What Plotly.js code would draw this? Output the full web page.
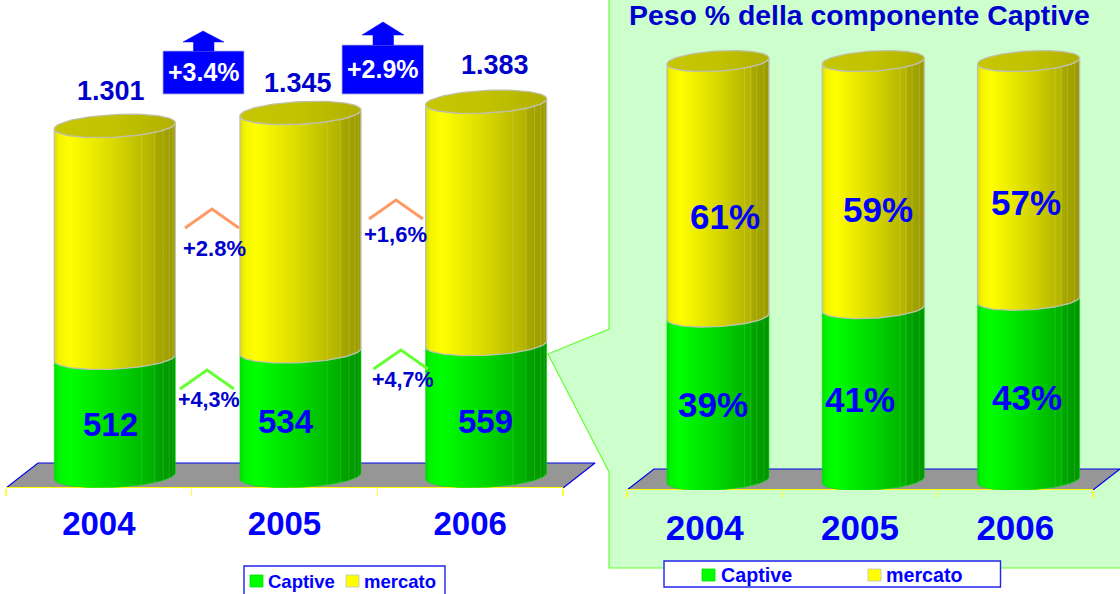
<!DOCTYPE html>
<html><head><meta charset="utf-8">
<script src="https://cdn.plot.ly/plotly-3.0.1.min.js"></script>
<style>html,body{margin:0;padding:0;background:#fff}#c{width:1120px;height:594px}</style>
</head><body><div id="c"></div>
<script>
const W = 1120, H = 594;
const categories = ['2004', '2005', '2006'];
const captiveValues = [512, 534, 559];
const mercatoValues = [789, 811, 824];
const totalLabels = ['1.301', '1.345', '1.383'];
const captiveShare = [39, 41, 43];
const mercatoShare = [61, 59, 57];
const totalGrowth = ['+3.4%', '+2.9%'];
const mercatoGrowth = ['+2.8%', '+1,6%'];
const captiveGrowth = ['+4,3%', '+4,7%'];

const FONT = 'Liberation Sans, Arial, sans-serif';
const BLUE = '#0000FF', NAVY = '#0000CC';
const YELLOW_SCALE = [[0, '#DDDD00'], [0.04, '#F4F400'], [0.13, '#FFFF00'], [0.3, '#EDED00'], [0.5, '#D8D800'], [0.72, '#BDBD00'], [0.82, '#B4B400'], [0.84, '#A8A800'], [1, '#999900']];
const GREEN_SCALE = [[0, '#00DD00'], [0.04, '#00F400'], [0.13, '#00FF00'], [0.3, '#00EC00'], [0.5, '#00D800'], [0.72, '#00BB00'], [0.82, '#00B000'], [0.84, '#00A400'], [1, '#009400']];
const TOP_SCALE = [[0, '#C6C600'], [0.5, '#C2C200'], [1, '#B0B000']];

const px = x => x / W, py = y => 1 - y / H;
const poly = pts => 'M' + pts.map(p => px(p[0]) + ',' + py(p[1])).join('L') + 'Z';
const shapes = [], annotations = [], traces = [];

function label(text, x, y, size, color) {
  annotations.push({ xref: 'paper', yref: 'paper', x: px(x), y: py(y), xanchor: 'center', yanchor: 'middle',
    showarrow: false, text: '<b>' + text + '</b>', font: { family: FONT, size: size, color: color } });
}
function paperPoly(pts, fill, lineColor, lineWidth, layer) {
  shapes.push({ type: 'path', xref: 'paper', yref: 'paper', path: poly(pts), fillcolor: fill,
    line: { color: lineColor, width: lineWidth }, layer: layer || 'above' });
}
function chevron(p, color) {
  shapes.push({ type: 'path', xref: 'paper', yref: 'paper',
    path: 'M' + p.map(q => px(q[0]) + ',' + py(q[1])).join('L'), line: { color: color, width: 3 }, layer: 'above' });
}

function drawChart(g) {
  const xa = 'x' + g.id, ya = 'y' + g.id;
  const seq = (a, b, n) => Array.from({ length: n + 1 }, (_, i) => a + (b - a) * i / n);
  const ell = (cx, v, th) => [cx + g.a / g.unit * Math.cos(th), v + (g.b * Math.sin(th) + g.s * Math.cos(th)) / g.k];
  const path = (cx, v, ths) => ths.map(t => ell(cx, v, t));
  const add = (pts, extra) => traces.push(Object.assign({
    type: 'scatter', xaxis: xa, yaxis: ya, x: pts.map(p => p[0]), y: pts.map(p => p[1]),
    mode: 'lines', hoverinfo: 'skip', showlegend: false, cliponaxis: false }, extra));

  // floor of the chart
  const yLow = g.yBase - g.floorFront / g.k, yBack = yLow + g.floorDepth / g.k, dx = g.floorShift;
  add([[-0.5, yLow], [-0.5 + dx, yBack], [2.5 + dx, yBack], [2.5, yLow], [-0.5, yLow]],
    { fill: 'toself', fillcolor: '#969696', line: { color: '#0000EE', width: 1.2 } });
  add([[-0.5, yLow], [2.5, yLow]], { line: { color: '#FFFF00', width: 1.8 } });

  g.lower.forEach((low, i) => {
    const cx = i + g.shift, top = low + g.upper[i], base = g.yBase;
    const front = seq(2 * Math.PI, Math.PI, 48), back = seq(Math.PI, 2 * Math.PI, 48);
    const body = (v0, v1) => path(cx, v1, front).concat(path(cx, v0, back)).concat([ell(cx, v1, 2 * Math.PI)]);
    add(body(base, low), { fill: 'toself', line: { color: '#00E000', width: 0.6 },
      fillgradient: { type: 'horizontal', colorscale: GREEN_SCALE } });
    add(body(low, top), { fill: 'toself', line: { color: '#C0C0B0', width: 1.3 },
      fillgradient: { type: 'horizontal', colorscale: YELLOW_SCALE } });
    const ring = path(cx, top, seq(0, 2 * Math.PI, 96));
    add(ring, { fill: 'toself', line: { color: '#C0C0A8', width: 1.3 },
      fillgradient: { type: 'horizontal', colorscale: TOP_SCALE } });
    // facet seams of the cylinder
    const fx = [], fyY = [], fxG = [], fyG = [];
    g.facets.forEach(f => {
      const th = 2 * Math.PI - Math.acos(2 * f - 1);
      const xs = ell(cx, low, th)[0];
      fx.push(xs, xs, null); fyY.push(ell(cx, low, th)[1], ell(cx, top, th)[1], null);
      fxG.push(xs, xs, null); fyG.push(ell(cx, base, th)[1], ell(cx, low, th)[1], null);
    });
    traces.push({ type: 'scatter', xaxis: xa, yaxis: ya, x: fx, y: fyY, mode: 'lines', hoverinfo: 'skip', showlegend: false,
      line: { color: 'rgba(235,235,150,0.28)', width: 0.8 } });
    traces.push({ type: 'scatter', xaxis: xa, yaxis: ya, x: fxG, y: fyG, mode: 'lines', hoverinfo: 'skip', showlegend: false,
      line: { color: 'rgba(120,255,120,0.25)', width: 0.8 } });
  });
}

// ---- panel behind the right chart
paperPoly([[609, -3], [1124, -3], [1124, 568], [609, 568], [609, 472], [548, 354], [609, 329]], '#CCFFCC', '#66FF33', 1.2, 'below');

const left = { id: '', unit: 185.67, a: 60.5, b: 11.3, s: 3, k: 0.294, yBase: 110, shift: 0.086, floorFront: 12, floorDepth: 25,
  floorShift: 32 / 185.67, lower: captiveValues, upper: mercatoValues, facets: [0.72, 0.83, 0.9, 0.95, 0.98] };
const right = { id: '2', unit: 155.33, a: 51, b: 10, s: 3, k: 4.19, yBase: 0, shift: 0.0856, floorFront: 10, floorDepth: 21,
  floorShift: 27 / 155.33, lower: captiveShare, upper: mercatoShare, facets: [0.76, 0.82, 0.88, 0.95] };
drawChart(left);
drawChart(right);

// ---- labels on the left chart
const captivePos = [[110, 424], [286, 421], [485, 421]];
captiveValues.forEach((v, i) => label(String(v), captivePos[i][0], captivePos[i][1], 33, BLUE));
const totalPos = [[111, 91], [298, 83], [495, 65]];
totalLabels.forEach((t, i) => label(t, totalPos[i][0], totalPos[i][1], 27, NAVY));

const boxes = [[163, 244, 51, 94, 193.5, 214, 183, 224, 203, 42, 31], [342, 423.5, 45, 94, 373, 393.5, 362, 404, 383, 35, 22]];
boxes.forEach((b, i) => {
  paperPoly([[b[0], b[2]], [b[1], b[2]], [b[1], b[3]], [b[0], b[3]]], BLUE, '#B0B0E0', 0.8);
  paperPoly([[b[6], b[9]], [b[8], b[10]], [b[7], b[9]], [b[5], b[9]], [b[5], b[2]], [b[4], b[2]], [b[4], b[9]]], BLUE, BLUE, 0.5);
  label(totalGrowth[i], (b[0] + b[1]) / 2, i ? 69 : 72, 25, '#FFFFFF');
});
chevron([[185, 228], [212, 209], [239, 228]], '#FF9966');
chevron([[369, 219], [396, 200], [423, 219]], '#FF9966');
chevron([[180, 389], [207, 370], [234, 389]], '#66FF33');
chevron([[373.5, 369], [401, 350], [428, 369]], '#66FF33');
label(mercatoGrowth[0], 214.5, 249, 22, NAVY);
label(mercatoGrowth[1], 395, 235, 22, NAVY);
label(captiveGrowth[0], 209, 400, 21.5, NAVY);
label(captiveGrowth[1], 403, 380, 21.5, NAVY);

// ---- labels on the right chart
label('Peso % della componente Captive', 859, 15.5, 28.4, NAVY);
const sharePosTop = [[725, 216], [878, 209], [1026, 202]];
mercatoShare.forEach((v, i) => label(v + '%', sharePosTop[i][0], sharePosTop[i][1], 35, BLUE));
const sharePosLow = [[713, 405], [860, 399], [1027, 398]];
captiveShare.forEach((v, i) => label(v + '%', sharePosLow[i][0], sharePosLow[i][1], 35, BLUE));

// ---- legends
function legendBox(x0, x1, y0, y1, items, size) {
  paperPoly([[x0, y0], [x1, y0], [x1, y1], [x0, y1]], '#FFFFFF', '#2222EE', 1.4);
  items.forEach(it => {
    paperPoly([[it.sx, it.sy], [it.sx + 13, it.sy], [it.sx + 13, it.sy + 12], [it.sx, it.sy + 12]], it.color, it.edge, 0.8);
    annotations.push({ xref: 'paper', yref: 'paper', x: px(it.tx), y: py(it.sy + 6), xanchor: 'left', yanchor: 'middle',
      showarrow: false, text: '<b>' + it.name + '</b>', font: { family: FONT, size: size, color: BLUE }, borderpad: 0 });
  });
}
legendBox(244, 445, 566, 597, [
  { name: 'Captive', sx: 250, sy: 575, tx: 267, color: '#00FF00', edge: '#00E000' },
  { name: 'mercato', sx: 346, sy: 575, tx: 363, color: '#FFFF00', edge: '#C0C0C0' }], 18.5);
legendBox(664, 1000.5, 561, 587, [
  { name: 'Captive', sx: 702, sy: 569, tx: 720, color: '#00FF00', edge: '#00E000' },
  { name: 'mercato', sx: 868, sy: 569, tx: 885, color: '#FFFF00', edge: '#C0C0C0' }], 19.7);

// ---- axes: the plot area runs on past the last tick so that the floor's depth is not clipped
function xAxis(x0, x1, unit, size, stand) {
  return { domain: [px(x0), px(x1)], range: [-0.5, -0.5 + (x1 - x0) / unit], type: 'linear', showgrid: false, zeroline: false,
    showline: false, tickmode: 'array', tickvals: [0, 1, 2], ticktext: categories.map(c => '<b>' + c + '</b>'),
    ticks: 'outside', ticklen: stand, tickcolor: 'rgba(0,0,0,0)', tickfont: { family: FONT, size: size, color: BLUE },
    minor: { tickmode: 'array', tickvals: [-0.5, 0.5, 1.5, 2.5], ticks: 'outside', ticklen: 7, tickcolor: '#FFFF33', tickwidth: 1.2, showgrid: false } };
}
function yAxis(g, bottomPx, anchor) {
  const lo = g.yBase - g.floorFront / g.k;
  const hi = lo + bottomPx / g.k;
  return { domain: [py(bottomPx), 1], range: [lo, hi], visible: false, anchor: anchor };
}
const layout = {
  width: W, height: H, margin: { l: 0, r: 0, t: 0, b: 0 }, paper_bgcolor: '#FFFFFF', plot_bgcolor: 'rgba(0,0,0,0)',
  showlegend: false, font: { family: FONT }, shapes: shapes, annotations: annotations,
  xaxis: Object.assign(xAxis(6, 596, left.unit, 33, 6), { anchor: 'y' }),
  yaxis: yAxis(left, 488, 'x'),
  xaxis2: Object.assign(xAxis(627, 1120, right.unit, 35, 7), { anchor: 'y2' }),
  yaxis2: yAxis(right, 490, 'x2')
};
Plotly.newPlot('c', traces, layout, { displayModeBar: false, staticPlot: true });
</script></body></html>
